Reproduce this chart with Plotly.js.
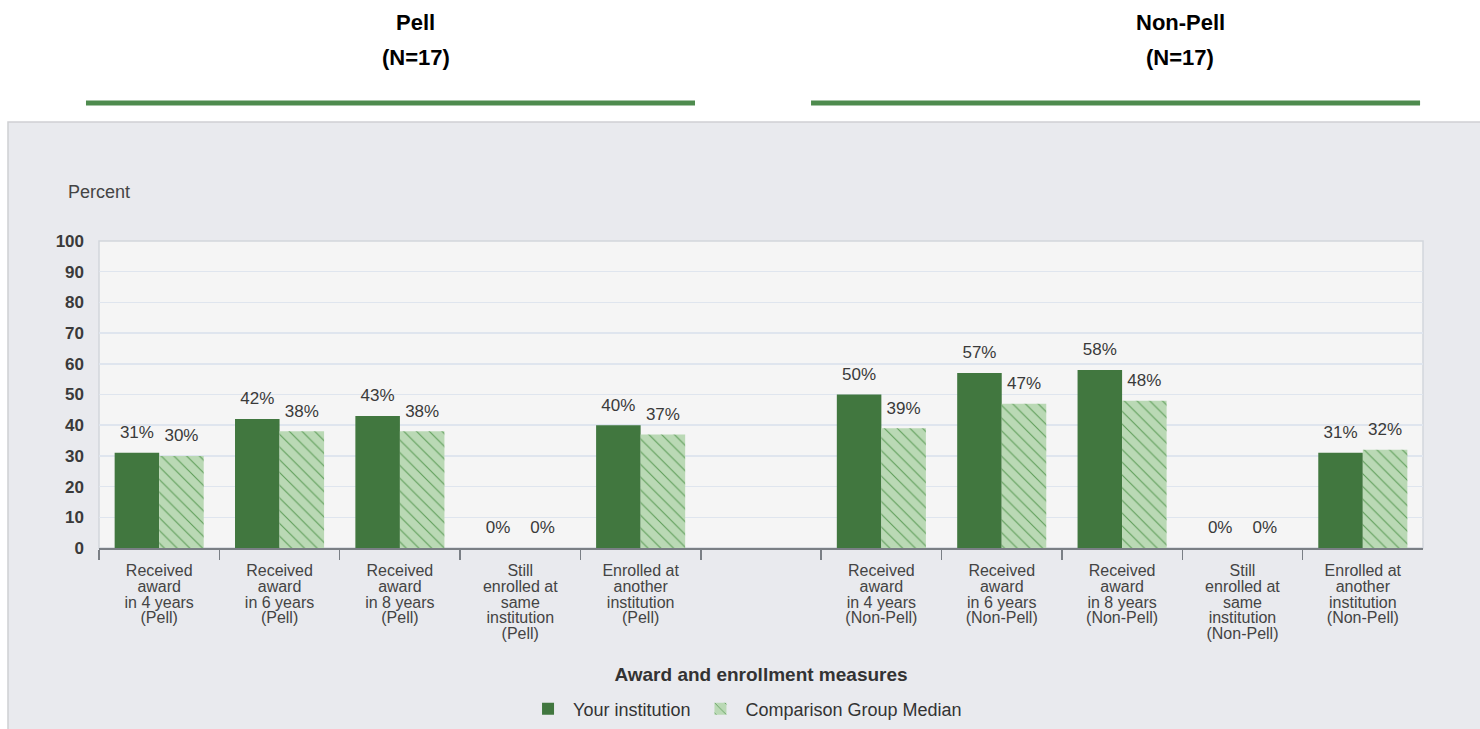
<!DOCTYPE html>
<html>
<head>
<meta charset="utf-8">
<script src="https://cdn.plot.ly/plotly-3.0.1.min.js"></script>
<style>html,body{margin:0;padding:0;background:#fff;}#chart{width:1480px;height:729px;}</style>
</head>
<body>
<div id="chart"></div>
<script>
const categories = [
  "Received<br>award<br>in 4 years<br>(Pell)",
  "Received<br>award<br>in 6 years<br>(Pell)",
  "Received<br>award<br>in 8 years<br>(Pell)",
  "Still<br>enrolled at<br>same<br>institution<br>(Pell)",
  "Enrolled at<br>another<br>institution<br>(Pell)",
  " ",
  "Received<br>award<br>in 4 years<br>(Non-Pell)",
  "Received<br>award<br>in 6 years<br>(Non-Pell)",
  "Received<br>award<br>in 8 years<br>(Non-Pell)",
  "Still<br>enrolled at<br>same<br>institution<br>(Non-Pell)",
  "Enrolled at<br>another<br>institution<br>(Non-Pell)"
];
const yourInstitution = [31, 42, 43, 0, 40, null, 50, 57, 58, 0, 31];
const comparisonMedian = [30, 38, 38, 0, 37, null, 39, 47, 48, 0, 32];
const seriesNames = ["Your institution", "Comparison Group Median"];
const groupHeaders = [["Pell", "(N=17)"], ["Non-Pell", "(N=17)"]];
const yTicks = [0, 10, 20, 30, 40, 50, 60, 70, 80, 90, 100];
const xTitle = "Award and enrollment measures";
const yTitle = "Percent";

const FONT = "Liberation Sans, Arial, sans-serif";
const DARK = "#41773f";
const LIGHT = "#bad9b5";
const DOTS = "#5e9d59";

// tick text: larger glyphs on a smaller base font so lines stay tight
const tickText = categories.map(c => '<span style="font-size:16px">' + c + '</span>');

const labelTrace = (vals, grp) => ({
  type: "scatter", mode: "markers+text", x: categories, y: vals,
  offsetgroup: grp, texttemplate: "%{y}%", textposition: "top center",
  textfont: {family: FONT, size: 17, color: "#3a3a3a"},
  marker: {size: 15, opacity: 0}, showlegend: false, hoverinfo: "skip", cliponaxis: false
});

const traces = [
  {
    type: "bar", name: seriesNames[0], x: categories, y: yourInstitution,
    offsetgroup: "a", marker: {color: DARK, line: {width: 0}}, hoverinfo: "skip"
  },
  {
    type: "bar", name: seriesNames[1], x: categories, y: comparisonMedian,
    offsetgroup: "b",
    marker: {color: LIGHT, line: {width: 0},
      pattern: {shape: "\\", bgcolor: LIGHT, fgcolor: DOTS, size: 9, solidity: 0.12}},
    hoverinfo: "skip"
  },
  labelTrace(yourInstitution, "a"),
  labelTrace(comparisonMedian, "b")
];

const headerFont = {family: FONT, size: 22, color: "#000", weight: "bold"};
const annotations = [];
[[0.28108, groupHeaders[0]], [0.79730, groupHeaders[1]]].forEach(([x, h]) => {
  annotations.push({text: h[0], x: x, y: 0.96982});
  annotations.push({text: h[1], x: x, y: 0.92181});
});
annotations.forEach(a => Object.assign(a, {
  xref: "paper", yref: "paper", showarrow: false, xanchor: "center", yanchor: "middle",
  font: headerFont
}));
annotations.push({
  text: yTitle, xref: "paper", yref: "paper", x: 0.04459, y: 0.73663,
  xanchor: "left", yanchor: "middle", showarrow: false,
  font: {family: FONT, size: 18, color: "#444"}
});

const shapes = [
  {type: "rect", xref: "paper", yref: "paper", x0: 0.0054, x1: 1.01, y0: -0.01, y1: 0.8326,
   fillcolor: "#e9eaee", line: {color: "#cfd0d3", width: 1.5}, layer: "below"},
  {type: "rect", xref: "x domain", yref: "y domain", x0: 0, x1: 1, y0: 0, y1: 1,
   fillcolor: "#f5f5f5", line: {color: "#d2d6dc", width: 1.5}, layer: "below"},
  {type: "line", xref: "paper", yref: "paper", x0: 0.0581, x1: 0.4696, y0: 0.85871, y1: 0.85871,
   line: {color: "#4e8b4e", width: 5}},
  {type: "line", xref: "paper", yref: "paper", x0: 0.5480, x1: 0.9595, y0: 0.85871, y1: 0.85871,
   line: {color: "#4e8b4e", width: 5}}
];

const layout = {
  width: 1480, height: 729,
  margin: {l: 0, r: 0, t: 0, b: 0},
  paper_bgcolor: "#ffffff", plot_bgcolor: "rgba(0,0,0,0)",
  font: {family: FONT, color: "#444"},
  barmode: "group", bargap: 0.26, bargroupgap: 0,
  scattermode: "group", scattergap: 0.26,
  showlegend: true,
  legend: {orientation: "h", x: 0.5034, xanchor: "center", y: 0.027435, yanchor: "middle",
    font: {family: FONT, size: 18, color: "#333"}, bgcolor: "rgba(0,0,0,0)", itemwidth: 40},
  xaxis: {
    domain: [0.066892, 0.961486],
    type: "category", categoryorder: "array", categoryarray: categories,
    tickmode: "array", tickvals: categories, ticktext: tickText,
    tickson: "boundaries", ticks: "outside", ticklen: 10, tickwidth: 1.5, tickcolor: "#7a7f85",
    ticklabelstandoff: 12,
    showline: true, linecolor: "#7a7f85", linewidth: 2,
    tickfont: {family: FONT, size: 12, color: "#444"},
    title: {text: xTitle, standoff: 27,
      font: {family: FONT, size: 19, color: "#333", weight: "bold"}},
    fixedrange: true
  },
  yaxis: {
    domain: [0.248285, 0.669410],
    range: [0, 100], tickvals: yTicks, showline: false, zeroline: false,
    gridcolor: "#dfe5ee", gridwidth: 1.5,
    ticks: "", ticklabelstandoff: 14,
    tickfont: {family: FONT, size: 17, color: "#3a3a3a", weight: "bold"},
    fixedrange: true
  },
  annotations: annotations,
  shapes: shapes
};

Plotly.newPlot("chart", traces, layout, {displayModeBar: false, staticPlot: true});
</script>
</body>
</html>
